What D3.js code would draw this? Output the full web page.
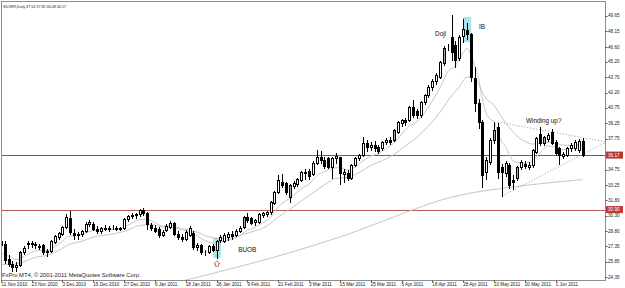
<!DOCTYPE html>
<html>
<head>
<meta charset="utf-8">
<script src="https://cdn.jsdelivr.net/npm/d3@7"></script>
<style>
  body { margin: 0; background: #fff; }
  svg { display: block; font-family: "Liberation Sans", Arial, sans-serif; }
</style>
</head>
<body>
<div class="chart"></div>
<script>
// chart frame
var width = 625;
var height = 288;
var plotLeft = 1, plotRight = 605, plotTop = 1, plotBottom = 280;

// SILVER daily bars, 11 Nov 2010 - 10 Jun 2011 (weekdays)
var firstDay = new Date(2010, 10, 11);
var lastDay = new Date(2011, 5, 10);

var open = [27.9,27.6,26.1,25.6,25.3,25.5,26.8,27.6,27.7,27.55,27.4,27.45,26.75,26.9,27.8,28.2,28.5,29.2,30.1,28.6,
  28.4,28.5,28.8,29.5,29.55,29.0,28.8,29.1,29.05,29.15,29.1,29.05,29.1,29.95,30.3,30.4,30.5,30.85,30.6,29.4,
  29.15,29.05,28.45,28.95,29.2,29.6,28.55,28.25,28.1,28.4,28.65,27.3,27.45,26.8,26.8,27.35,26.95,27.95,27.9,28.2,
  28.55,28.4,28.85,29.2,30.15,30.05,29.65,29.7,30.35,30.45,30.65,31.5,32.6,33.6,33.45,32.1,33.2,33.4,33.8,34.4,
  34.6,34.3,35.4,35.95,35.7,35.85,35.0,35.85,35.95,34.3,34.45,34.0,35.2,35.9,36.2,37.3,37.0,37.15,36.95,36.9,
  37.4,37.65,37.6,38.4,39.3,39.6,39.6,40.8,40.45,40.0,41.3,41.95,42.75,43.3,43.75,45.1,46.6,47.6,46.8,45.6,
  47.7,48.3,47.9,43.6,41.2,39.4,34.5,35.5,37.6,38.9,35.0,34.4,35.2,33.8,34.0,35.0,35.3,35.05,35.2,36.5,
  38.2,37.35,37.7,38.4,37.45,36.85,36.1,36.2,36.85,36.9,36.7,37.54];
var high = [28.2,27.9,26.5,25.9,25.8,26.9,27.4,27.9,27.9,27.8,27.6,27.6,27.1,28.0,28.4,28.7,29.3,30.45,30.75,29.0,
  28.7,28.9,29.7,29.9,29.7,29.3,29.2,29.4,29.3,29.4,29.3,29.2,30.1,30.4,30.6,30.6,30.95,31.1,30.7,29.6,
  29.4,29.2,28.9,29.5,29.8,29.7,28.8,28.5,28.9,29.3,28.8,27.7,27.6,27.0,27.5,27.55,28.0,28.4,28.6,28.7,
  28.8,29.0,29.3,30.3,30.6,30.2,30.0,30.6,30.7,30.8,31.7,32.7,34.2,34.3,33.6,33.4,33.7,34.0,34.6,34.8,
  34.8,35.6,36.65,36.6,35.95,36.0,35.95,36.4,36.0,34.8,34.7,35.3,36.0,36.3,37.9,37.6,37.45,37.5,37.1,37.5,
  37.8,37.9,38.7,39.5,39.7,39.8,40.9,41.5,40.6,41.4,42.1,42.9,43.5,44.1,45.3,46.7,46.9,49.75,47.2,47.8,
  49.3,48.9,48.0,44.7,41.6,39.6,36.0,37.8,39.4,39.3,35.3,35.6,35.4,34.2,35.1,35.7,35.6,35.5,36.8,37.9,
  38.9,38.0,38.3,38.7,37.6,37.0,36.5,37.0,37.3,37.6,37.7,37.85];
var low = [27.3,25.7,25.4,25.0,25.0,25.4,26.6,27.2,27.3,27.2,27.1,26.6,26.45,26.8,27.7,28.1,28.4,29.1,28.5,28.1,
  28.1,28.3,28.7,29.3,28.9,28.6,28.6,28.9,28.8,29.0,28.9,28.9,29.0,29.8,30.1,30.1,30.3,30.4,29.0,28.9,
  28.7,28.2,28.3,28.8,29.1,28.4,28.1,27.9,28.0,28.3,27.1,27.0,26.6,26.5,26.7,26.85,26.2,27.8,27.8,28.0,
  28.1,28.3,28.7,29.1,29.7,29.5,29.4,29.6,30.2,30.3,30.5,31.4,32.5,33.1,32.4,31.6,33.0,33.2,33.7,33.9,
  33.9,34.2,35.3,35.4,34.9,34.9,34.0,35.4,33.4,33.6,33.8,33.9,35.1,35.7,36.1,36.6,36.7,36.6,36.4,36.7,
  37.2,37.2,37.5,38.3,39.0,39.1,39.5,39.9,39.8,39.9,41.1,41.8,42.5,43.0,43.6,44.9,46.3,45.4,44.7,45.4,
  47.1,47.4,43.3,40.4,38.8,33.1,33.9,35.3,37.3,34.0,32.2,34.1,33.0,32.9,33.8,34.8,34.9,34.8,35.0,36.4,
  37.1,37.1,37.5,37.2,36.2,35.3,35.9,36.1,36.6,36.7,36.5,36.08];
var close = [27.5,26.0,25.6,25.3,25.5,26.8,27.2,27.7,27.55,27.45,27.25,26.8,26.9,27.9,28.3,28.6,29.2,30.15,28.7,28.4,
  28.5,28.8,29.5,29.7,29.0,28.8,29.1,29.05,29.15,29.1,29.05,29.1,29.95,30.3,30.4,30.5,30.85,30.6,29.5,29.15,
  28.85,28.4,28.75,29.35,29.6,28.5,28.25,28.1,28.7,29.1,27.3,27.45,26.8,26.75,27.35,27.0,27.85,28.2,28.4,28.55,
  28.3,28.85,29.15,30.15,29.9,29.6,29.9,30.45,30.55,30.65,31.6,32.6,33.75,33.3,32.6,33.25,33.5,33.85,34.5,34.5,
  34.15,35.45,35.95,35.7,35.15,35.0,35.85,36.05,34.4,34.55,34.0,35.2,35.9,36.2,37.3,36.95,37.1,36.9,36.6,37.4,
  37.6,37.45,38.6,39.35,39.55,39.4,40.8,40.05,40.0,41.3,41.95,42.75,43.35,43.9,45.2,46.55,46.65,46.15,45.4,47.6,
  48.35,47.85,43.7,41.2,39.35,34.2,35.7,37.6,38.6,34.5,34.5,35.4,33.3,33.6,35.0,35.5,35.1,35.25,36.7,37.8,
  37.35,37.9,38.1,37.35,36.4,36.2,36.3,36.85,37.15,37.45,37.5,36.17];
// bars drawn with a grey body
var greyBars = [5, 63, 75, 102, 115, 128, 134, 141];

// moving averages, [bar, price]
var maFast = [[0,26.68],[2,26.39],[4,26.06],[6,26.37],[8,26.78],[10,26.96],[12,26.92],[14,27.32],[16,27.85],[18,28.35],
  [20,28.39],[22,28.65],[24,28.87],[27,28.93],[30,29.0],[33,29.39],[36,29.94],[38,29.96],[40,29.64],[42,29.29],
  [44,29.35],[46,29.03],[48,28.83],[50,28.59],[52,28.09],[54,27.76],[56,27.66],[58,27.88],[60,28.05],[62,28.37],
  [64,28.91],[66,29.19],[68,29.63],[70,30.14],[72,31.16],[74,31.74],[76,32.28],[78,32.92],[80,33.38],[82,34.16],
  [84,34.57],[86,34.87],[88,34.96],[90,34.73],[92,35.01],[94,35.61],[96,36.08],[98,36.3],[100,36.8],[102,37.34],
  [104,38.18],[106,38.97],[108,39.39],[110,40.29],[112,41.4],[114,42.68],[116,44.23],[118,44.82],[120,46.09],[121,46.48],
  [122,45.86],[123,44.82],[124,43.6],[125,41.51],[126,40.22],[127,39.64],[128,39.41],[129,38.32],[130,37.47],[131,37.01],
  [132,36.19],[133,35.61],[134,35.47],[136,35.4],[138,35.67],[140,36.41],[142,37.04],[144,36.95],[146,36.67],[148,36.81],
  [150,37.07],[151,36.87]];
var maMid = [[0,25.6],[3,25.61],[6,25.85],[9,26.29],[12,26.47],[15,26.94],[18,27.56],[21,27.83],[24,28.23],[27,28.43],
  [30,28.6],[33,28.92],[36,29.35],[39,29.44],[42,29.24],[45,29.21],[48,28.99],[51,28.71],[54,28.26],[57,28.12],
  [60,28.2],[63,28.51],[66,28.85],[69,29.29],[72,30.18],[75,30.93],[78,31.72],[81,32.5],[84,33.3],[87,33.91],
  [90,34.02],[93,34.48],[96,35.16],[99,35.64],[102,36.23],[105,37.06],[108,37.89],[111,38.97],[114,40.33],[117,41.91],
  [119,42.75],[121,43.72],[122,43.72],[123,43.48],[124,43.09],[125,42.24],[126,41.62],[128,40.99],[130,39.81],[132,38.81],
  [134,38.0],[136,37.51],[138,37.23],[140,37.3],[142,37.42],[144,37.32],[146,37.13],[148,37.11],[150,37.18],[151,37.08]];
var maSlow = [[40,23.4],[51,24.35],[60,25.2],[70,26.2],[80,27.3],[90,28.5],[100,29.9],[110,31.3],[114,31.8],[120,32.35],
  [130,32.95],[140,33.4],[151,33.8]];

// price levels and trend lines
var levels = [36.17, 30.90];
var upperTrend = [[129.0, 39.37], [157, 37.45]];
var lowerTrend = [[130.1, 32.21], [157, 37.4]];

// notes and boxes
var notes = [
  {text: "Doji", bar: 112.7, price: 47.69},
  {text: "IB", bar: 124.1, price: 48.36},
  {text: "BUOB", bar: 61.6, price: 26.8},
  {text: "Winding up?", bar: 136.3, price: 39.27}
];
var boxes = [
  {bar0: 55.1, bar1: 57.15, top: 28.15, bottom: 26.22},
  {bar0: 120.0, bar1: 122.05, top: 49.52, bottom: 47.1}
];
var arrowBar = 56.1, arrowPrice = 25.65;

// axes labels
var priceTicks = ["49.65","48.15","46.60","45.20","43.70","42.20","40.75","39.25","37.75","34.75",
  "33.25","31.80","30.30","28.80","27.35","25.85","24.35"];
var dateTicks = ["11 Nov 2010","23 Nov 2010","3 Dec 2010","15 Dec 2010","27 Dec 2010","6 Jan 2011",
  "18 Jan 2011","28 Jan 2011","9 Feb 2011","21 Feb 2011","3 Mar 2011","15 Mar 2011","25 Mar 2011",
  "6 Apr 2011","18 Apr 2011","28 Apr 2011","10 May 2011","20 May 2011","1 Jun 2011"];

var dates = d3.timeDay.range(firstDay, d3.timeDay.offset(lastDay, 1))
              .filter(d => d.getDay() != 0 && d.getDay() != 6);
var fmt = d3.timeFormat("%-d %b %Y");
var bars = dates.map((d, i) => ({i: i, date: d, o: open[i], h: high[i], l: low[i], c: close[i]}));

var xScale = d3.scaleLinear()
               .domain([0, dates.length - 1])
               .range([0.8, 582.6]);
var yScale = d3.scaleLinear()
               .domain([24.35, 49.65])
               .range([277.3, 15.7]);

var svg = d3.select(".chart")
            .append("svg")
            .attr("width", width)
            .attr("height", height);

svg.append("rect")
   .attr("width", width)
   .attr("height", height)
   .attr("fill", "#fff");

svg.append("clipPath")
   .attr("id", "plot-clip")
   .append("rect")
   .attr("x", plotLeft)
   .attr("y", plotTop)
   .attr("width", plotRight - plotLeft)
   .attr("height", plotBottom - plotTop);

var plot = svg.append("g").attr("clip-path", "url(#plot-clip)");

// highlight boxes
plot.selectAll(".box")
    .data(boxes)
    .enter()
    .append("rect")
    .attr("class", "box")
    .attr("x", d => xScale(d.bar0))
    .attr("y", d => yScale(d.top))
    .attr("width", d => xScale(d.bar1) - xScale(d.bar0))
    .attr("height", d => yScale(d.bottom) - yScale(d.top))
    .attr("fill", "#a9e4ea");

// price levels
var levelColors = ["#a24a4a", "#b85a5a"];
plot.selectAll(".level")
    .data(levels)
    .enter()
    .append("line")
    .attr("class", "level")
    .attr("x1", plotLeft)
    .attr("x2", plotRight)
    .attr("y1", d => Math.round(yScale(d)) + 0.5)
    .attr("y2", d => Math.round(yScale(d)) + 0.5)
    .attr("stroke", (d, i) => levelColors[i])
    .attr("stroke-width", 1);

// moving averages
var maLine = d3.line()
               .x(d => xScale(d[0]))
               .y(d => yScale(d[1]))
               .curve(d3.curveMonotoneX);
[maSlow, maMid, maFast].forEach(function(ma) {
  plot.append("path")
      .attr("d", maLine(ma))
      .attr("fill", "none")
      .attr("stroke", "#c6c6c6")
      .attr("stroke-width", 1);
});

// trend lines
[upperTrend, lowerTrend].forEach(function(t) {
  plot.append("line")
      .attr("x1", xScale(t[0][0]))
      .attr("y1", yScale(t[0][1]))
      .attr("x2", xScale(t[1][0]))
      .attr("y2", yScale(t[1][1]))
      .attr("stroke", "#9a9a9a")
      .attr("stroke-width", 1)
      .attr("stroke-dasharray", "1,2");
});

// candles
var candle = plot.selectAll(".candle")
                 .data(bars)
                 .enter()
                 .append("g")
                 .attr("class", "candle");
candle.append("line")
      .attr("x1", d => Math.round(xScale(d.i)) + 0.5)
      .attr("x2", d => Math.round(xScale(d.i)) + 0.5)
      .attr("y1", d => Math.round(yScale(d.h)))
      .attr("y2", d => Math.round(yScale(d.l)) + 1)
      .attr("stroke", "#000");
candle.append("rect")
      .attr("x", d => Math.round(xScale(d.i)) - 0.5)
      .attr("width", 2)
      .attr("y", d => Math.round(yScale(Math.max(d.o, d.c))) + 0.5)
      .attr("height", d => Math.max(Math.round(yScale(Math.min(d.o, d.c))) - Math.round(yScale(Math.max(d.o, d.c))), 0))
      .attr("fill", d => greyBars.indexOf(d.i) >= 0 ? "#a9a9a9" : (d.c < d.o ? "#000" : "#fff"))
      .attr("stroke", "#000")
      .attr("stroke-width", 1);

// up arrow under the outside bar
var ax = xScale(arrowBar), ay = yScale(arrowPrice);
plot.append("path")
    .attr("d", "M" + ax + "," + (ay - 3) + "l3,3h-1.5v2.5h-3v-2.5h-1.5z")
    .attr("fill", "none")
    .attr("stroke", "#c05050")
    .attr("stroke-width", 0.8);

// notes
plot.selectAll(".note")
    .data(notes)
    .enter()
    .append("text")
    .attr("class", "note")
    .attr("x", d => xScale(d.bar))
    .attr("y", d => yScale(d.price))
    .text(d => d.text)
    .style("font-size", "6.4px")
    .attr("fill", "#111");

// frame
svg.append("rect")
   .attr("x", plotLeft + 0.5)
   .attr("y", plotTop + 0.5)
   .attr("width", plotRight - plotLeft)
   .attr("height", plotBottom - plotTop)
   .attr("fill", "none")
   .attr("stroke", "#8c8c8c");

// price scale
priceTicks.forEach(function(t) {
  var y = yScale(+t);
  svg.append("line")
     .attr("x1", plotRight + 0.5).attr("x2", plotRight + 2.5)
     .attr("y1", Math.round(y) + 0.5).attr("y2", Math.round(y) + 0.5)
     .attr("stroke", "#555");
  svg.append("text")
     .attr("x", 608)
     .attr("y", y + 1.7)
     .text(t)
     .style("font-size", "4.6px")
     .attr("fill", "#222");
});
levels.forEach(function(v, i) {
  var y = yScale(v);
  svg.append("rect")
     .attr("x", 606).attr("y", y - 3.5)
     .attr("width", 17).attr("height", 7)
     .attr("fill", i == 0 ? "#b03a3a" : "#c0393b");
  svg.append("text")
     .attr("x", 608).attr("y", y + 1.7)
     .text(v.toFixed(2))
     .style("font-size", "4.6px")
     .attr("fill", "#fff");
});

// time scale
dateTicks.forEach(function(t) {
  var i = dates.findIndex(d => fmt(d) === t);
  var x = xScale(i);
  svg.append("line")
     .attr("x1", Math.round(x) + 0.5).attr("x2", Math.round(x) + 0.5)
     .attr("y1", plotBottom + 0.5).attr("y2", plotBottom + 2.5)
     .attr("stroke", "#555");
  svg.append("text")
     .attr("x", Math.max(x, 1.6))
     .attr("y", 286)
     .text(t)
     .style("font-size", "4.6px")
     .attr("fill", "#222");
});

// header and copyright
svg.append("text")
   .attr("x", 3)
   .attr("y", 8)
   .text("SILVER,Daily  37.54 37.85 36.08 36.17")
   .style("font-size", "3.7px")
   .attr("fill", "#222");
svg.append("text")
   .attr("x", 2)
   .attr("y", 277)
   .text("FxPro MT4, \u00a9 2001-2011 MetaQuotes Software Corp.")
   .style("font-size", "5.8px")
   .attr("fill", "#222");
</script>
</body>
</html>
